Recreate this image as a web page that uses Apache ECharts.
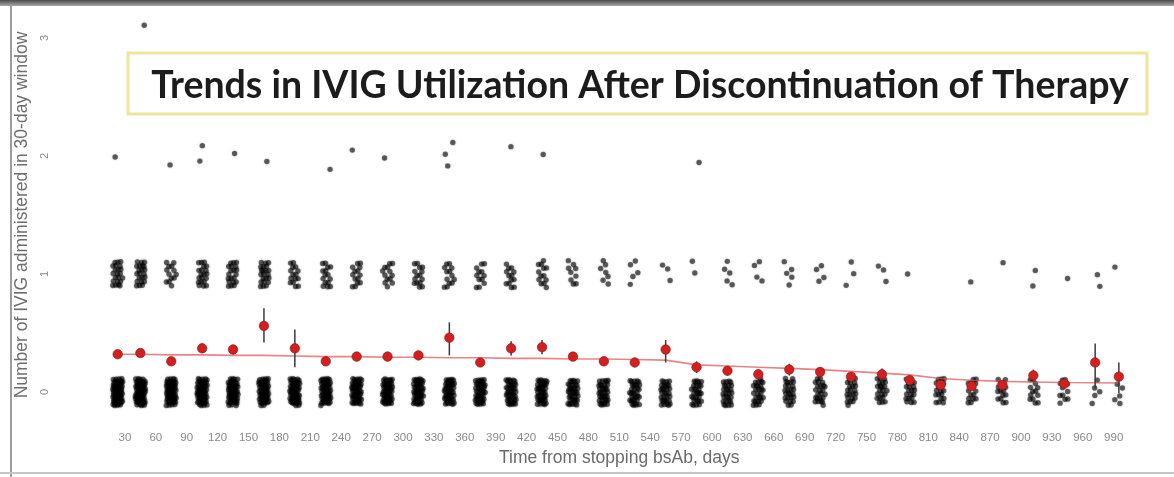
<!DOCTYPE html>
<html><head><meta charset="utf-8">
<script src="https://cdn.jsdelivr.net/npm/echarts@6/dist/echarts.min.js"></script>
<style>html,body{margin:0;padding:0;background:#fff}#c{width:1174px;height:477px}</style>
</head><body><div id="c"></div>
<script>
// ---- data ----
const binDays = [23,45,75,105,135,165,195,225,255,285,315,345,375,405,435,465,495,525,555,585,615,645,675,705,735,765,792,822,852,882,912,942,972,995];
const meanIVIG = [0.32,0.33,0.26,0.37,0.36,0.56,0.37,0.26,0.30,0.30,0.31,0.46,0.25,0.37,0.38,0.30,0.26,0.25,0.36,0.21,0.18,0.15,0.19,0.17,0.13,0.15,0.10,0.06,0.05,0.06,0.14,0.07,0.25,0.13];
const ciLow  = [0.29,0.30,0.23,0.33,0.32,0.42,0.21,0.23,0.26,0.26,0.27,0.31,0.22,0.31,0.32,0.26,0.22,0.21,0.25,0.16,0.14,0.11,0.14,0.13,0.09,0.10,0.06,0.03,0.02,0.03,0.09,0.03,0.03,-0.01];
const ciHigh = [0.35,0.36,0.29,0.41,0.40,0.71,0.53,0.29,0.34,0.34,0.35,0.59,0.28,0.43,0.44,0.34,0.30,0.29,0.44,0.26,0.22,0.19,0.24,0.21,0.17,0.20,0.14,0.09,0.08,0.09,0.19,0.11,0.41,0.25];
const trendFit = [0.32,0.32,0.315,0.315,0.31,0.31,0.305,0.30,0.30,0.295,0.295,0.29,0.29,0.285,0.285,0.28,0.28,0.275,0.27,0.23,0.22,0.21,0.20,0.19,0.175,0.16,0.145,0.115,0.10,0.09,0.085,0.08,0.078,0.076];
// number of patients in each 30-day window with 0,1,2,3 IVIG administrations
const patientsWith0 = [64,64,60,60,56,54,54,52,50,48,46,44,42,42,40,38,36,34,32,30,28,27,26,24,23,22,20,18,16,15,13,11,5,5];
const patientsWith1 = [22,22,13,20,20,22,15,15,14,13,15,13,12,13,13,9,7,5,3,2,5,4,5,4,3,3,1,0,1,1,2,1,2,1];
const patientsWith2 = [1,0,1,2,1,1,0,1,1,1,0,3,0,1,1,0,0,0,0,1,0,0,0,0,0,0,0,0,0,0,0,0,0,0];
const patientsWith3 = [0,1,0,0,0,0,0,0,0,0,0,0,0,0,0,0,0,0,0,0,0,0,0,0,0,0,0,0,0,0,0,0,0,0];
const xTickLabels = ['30','60','90','120','150','180','210','240','270','300','330','360','390','420','450','480','510','540','570','600','630','660','690','720','750','780','810','840','870','900','930','960','990'];
const yTickLabels = ['0','1','2','3'];

// ---- build series data ----
const levels = [patientsWith0, patientsWith1, patientsWith2, patientsWith3];
const jitterData = [];
levels.forEach((arr, lvl) => arr.forEach((n, i) => { if (n > 0) jitterData.push([binDays[i], lvl, n]); }));
const meanData = binDays.map((d, i) => [d, meanIVIG[i]]);
const ciData = binDays.map((d, i) => [d, ciLow[i], ciHigh[i]]);
const trendData = binDays.map((d, i) => [d, trendFit[i]]);

// geom_jitter-like placement (deterministic low-discrepancy layout around each value)
function frac(v) { return v - Math.floor(v); }
function jitterItem(params, api) {
  const x = api.value(0), lvl = api.value(1), n = api.value(2);
  const c = api.coord([x, lvl]);
  const unitY = api.size([0, 1])[1];
  const children = [];
  for (let j = 0; j < n; j++) {
    const u = frac(0.31 + 0.7548776662 * (j + 1) + params.dataIndex * 0.137);
    const v = frac(0.47 + 0.5698402910 * (j + 1) + params.dataIndex * 0.291);
    children.push({type: 'circle', shape: {cx: c[0] + (u - 0.5) * 10, cy: c[1] + (v - 0.5) * 0.23 * unitY, r: 2.7},
      style: {fill: 'rgba(0,0,0,0.55)', shadowBlur: 2, shadowColor: 'rgba(0,0,0,0.5)'}});
  }
  return {type: 'group', children};
}
function ciItem(params, api) {
  const a = api.coord([api.value(0), api.value(1)]);
  const b = api.coord([api.value(0), api.value(2)]);
  return {type: 'line', shape: {x1: a[0], y1: a[1], x2: b[0], y2: b[1]}, style: {stroke: '#3a3a3a', lineWidth: 1.5}};
}

const chart = echarts.init(document.getElementById('c'), null, {renderer: 'canvas'});
chart.setOption({
  backgroundColor: '#ffffff',
  animation: false,
  grid: {left: 94, right: 29.4, top: 8.5, bottom: 55.5},
  xAxis: {
    type: 'value', min: 0, max: 1020, interval: 30,
    axisLine: {show: false}, axisTick: {show: false}, splitLine: {show: false},
    axisLabel: {color: '#8a8a8a', fontSize: 11.5, fontFamily: 'Liberation Sans', margin: 10,
      formatter: v => xTickLabels.includes(String(v)) ? String(v) : ''},
    name: 'Time from stopping bsAb, days', nameLocation: 'middle', nameGap: 28,
    nameTextStyle: {color: '#6a6a6a', fontSize: 17.5, fontFamily: 'Liberation Sans'}
  },
  yAxis: {
    type: 'value', min: -0.25, max: 3.25, interval: 0.25,
    axisLine: {show: false}, axisTick: {show: false}, splitLine: {show: false},
    axisLabel: {color: '#8a8a8a', fontSize: 11, fontFamily: 'Liberation Sans', margin: 44, rotate: 90,
      formatter: v => yTickLabels.includes(String(v)) ? String(v) : ''},
    name: 'Number of IVIG administered in 30-day window', nameLocation: 'middle', nameGap: 53, nameRotate: 90,
    nameTextStyle: {color: '#6e6e6e', fontSize: 17.5, fontFamily: 'Liberation Sans'}
  },
  series: [
    {type: 'custom', renderItem: jitterItem, data: jitterData, encode: {x: 0, y: 1}, z: 1, silent: true},
    {type: 'line', data: trendData, symbol: 'none', lineStyle: {color: 'rgba(222,80,80,0.7)', width: 1.6}, z: 2, silent: true},
    {type: 'custom', renderItem: ciItem, data: ciData, encode: {x: 0, y: [1, 2]}, z: 3, silent: true},
    {type: 'scatter', data: meanData, symbolSize: 9.5, itemStyle: {color: '#d21f1f', borderColor: '#8c1212', borderWidth: 0.6, opacity: 1}, z: 4}
  ],
  graphic: [
    {type: 'rect', shape: {x: 0, y: 0, width: 1174, height: 6}, style: {fill: new echarts.graphic.LinearGradient(0, 0, 0, 1, [{offset: 0, color: '#4a4a4a'}, {offset: 1, color: '#a8a8a8'}])}, z: 100},
    {type: 'rect', shape: {x: 10, y: 6, width: 2, height: 471}, style: {fill: '#9c9c9c'}, z: 100},
    {type: 'rect', shape: {x: 0, y: 472, width: 1174, height: 2}, style: {fill: '#c6c6c6'}, z: 100},
    {type: 'rect', shape: {x: 128, y: 53, width: 1019, height: 61}, style: {fill: '#ffffff', stroke: '#ece79c', lineWidth: 3}, z: 90},
    {type: 'text', x: 640, y: 86, z: 91, style: {text: 'Trends in IVIG Utilization After Discontinuation of Therapy',
      fill: '#1c1c1c', font: 'bold 37.5px Lato', textAlign: 'center', textVerticalAlign: 'middle'}}
  ]
});
</script></body></html>
